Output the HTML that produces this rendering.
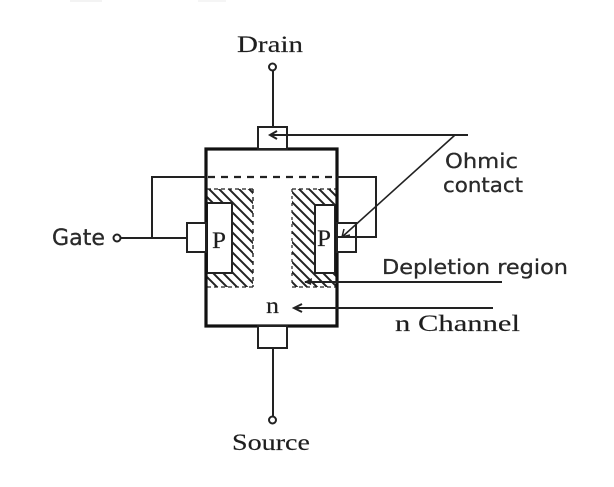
<!DOCTYPE html>
<html>
<head>
<meta charset="utf-8">
<style>
  html,body{margin:0;padding:0;background:#fff;}
  svg{display:block;}
  .sans{font-family:"DejaVu Sans","Liberation Sans",sans-serif;fill:#2a2a2a;stroke:#2a2a2a;stroke-width:0.3;}
  .serif{font-family:"Liberation Serif","DejaVu Serif",serif;fill:#1e1e1e;stroke:#1e1e1e;stroke-width:0.15;}
</style>
</head>
<body>
<svg width="614" height="487" viewBox="0 0 614 487" xmlns="http://www.w3.org/2000/svg">
  <defs>
    <pattern id="hatch" patternUnits="userSpaceOnUse" width="10" height="10">
      <path d="M-2,-2 L12,12 M-2,8 L2,12 M8,-2 L12,2" stroke="#222" stroke-width="2"/>
    </pattern>
  </defs>

  <!-- faint top fragments -->
  <rect x="70" y="0" width="32" height="2" fill="#f3f3f3"/>
  <rect x="198" y="0" width="28" height="2" fill="#f5f5f5"/>

  <!-- hatched depletion regions -->
  <path d="M207,189 H253 V287 H207 Z M207,203 V273 H232 V203 Z" fill="url(#hatch)" fill-rule="evenodd"/>
  <path d="M292,189 H337 V287 H292 Z M315,205 V273 H337 V205 Z" fill="url(#hatch)" fill-rule="evenodd"/>
  <!-- dashed boundaries of depletion regions -->
  <path d="M253,189 V287" stroke="#222" stroke-width="1.4" stroke-dasharray="4,4" fill="none"/>
  <path d="M292,189 V287" stroke="#222" stroke-width="1.2" stroke-dasharray="3,4" fill="none"/>
  <path d="M207,189 H253 M292,189 H337 M207,287 H253 M292,287 H337" stroke="#222" stroke-width="1.2" stroke-dasharray="4,3" fill="none"/>

  <!-- P regions -->
  <rect x="207" y="203" width="25" height="70" fill="#fff" stroke="#222" stroke-width="2"/>
  <rect x="315" y="205" width="20" height="68" fill="#fff" stroke="#222" stroke-width="2"/>

  <!-- dashed line -->
  <line x1="208" y1="177" x2="336" y2="177" stroke="#222" stroke-width="2.2" stroke-dasharray="7,6"/>

  <!-- main box -->
  <rect x="206" y="149" width="131" height="177" fill="none" stroke="#111" stroke-width="3.2"/>

  <!-- drain contact & lead -->
  <rect x="258" y="127" width="29" height="22" fill="#fff" stroke="#222" stroke-width="2"/>
  <line x1="273" y1="71" x2="273" y2="127" stroke="#222" stroke-width="2"/>
  <circle cx="272.5" cy="67" r="3.5" fill="#fff" stroke="#222" stroke-width="2"/>

  <!-- source contact & lead -->
  <rect x="258" y="326" width="29" height="22" fill="#fff" stroke="#222" stroke-width="2"/>
  <line x1="273" y1="348" x2="273" y2="416" stroke="#222" stroke-width="2"/>
  <circle cx="272.5" cy="420" r="3.5" fill="#fff" stroke="#222" stroke-width="2"/>

  <!-- gate contacts -->
  <rect x="187" y="223" width="19" height="29" fill="#fff" stroke="#222" stroke-width="2"/>
  <rect x="337" y="223" width="19" height="29" fill="#fff" stroke="#222" stroke-width="2"/>

  <!-- gate wiring -->
  <path d="M121,238 H187 M152,238 V177 H206" stroke="#222" stroke-width="2" fill="none"/>
  <path d="M337,177 H376 V237 H337" stroke="#222" stroke-width="2" fill="none"/>
  <circle cx="117" cy="238" r="3.5" fill="#fff" stroke="#222" stroke-width="2"/>

  <!-- ohmic contact pointers -->
  <line x1="270" y1="135" x2="468" y2="135" stroke="#222" stroke-width="2"/>
  <polyline points="277,131 270,135 277,139" fill="none" stroke="#222" stroke-width="2"/>
  <line x1="455" y1="135" x2="342" y2="237" stroke="#222" stroke-width="1.6"/>
  <polyline points="344,229 342,237 350,235" fill="none" stroke="#222" stroke-width="1.5"/>

  <!-- depletion pointer -->
  <line x1="305" y1="282" x2="502" y2="282" stroke="#222" stroke-width="2"/>
  <polygon points="304,282 312,278 311,285" fill="#222"/>

  <!-- n channel pointer -->
  <line x1="294" y1="308" x2="493" y2="308" stroke="#222" stroke-width="2"/>
  <polyline points="302,304 294,308 302,312" fill="none" stroke="#222" stroke-width="2"/>

  <!-- labels -->
  <text class="serif" x="237" y="52" font-size="23" textLength="66" lengthAdjust="spacingAndGlyphs">Drain</text>
  <text class="sans" x="445" y="168" font-size="20" textLength="73" lengthAdjust="spacingAndGlyphs">Ohmic</text>
  <text class="sans" x="443" y="192" font-size="20" textLength="80" lengthAdjust="spacingAndGlyphs">contact</text>
  <text class="sans" x="52" y="245" font-size="22" textLength="53" lengthAdjust="spacingAndGlyphs">Gate</text>
  <text class="sans" x="382" y="274" font-size="20" textLength="186" lengthAdjust="spacingAndGlyphs">Depletion region</text>
  <text class="serif" x="395" y="331" font-size="23" textLength="125" lengthAdjust="spacingAndGlyphs">n Channel</text>
  <text class="serif" x="232" y="450" font-size="23" textLength="78" lengthAdjust="spacingAndGlyphs">Source</text>
  <text class="serif" x="212" y="248" font-size="23" textLength="14" lengthAdjust="spacingAndGlyphs">P</text>
  <text class="serif" x="317" y="246" font-size="23" textLength="14" lengthAdjust="spacingAndGlyphs">P</text>
  <text class="serif" x="266" y="313" font-size="23" textLength="13" lengthAdjust="spacingAndGlyphs">n</text>
</svg>
</body>
</html>
